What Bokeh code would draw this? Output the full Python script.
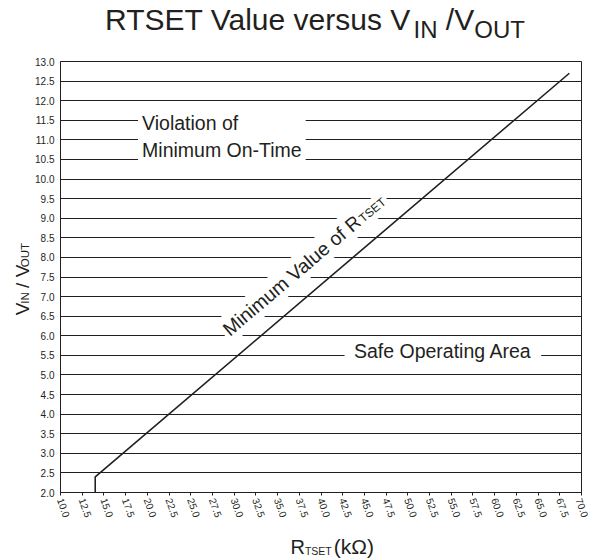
import math
from bokeh.plotting import figure
from bokeh.models import Range1d, FixedTicker, PrintfTickFormatter, Label
from bokeh.layouts import column, row
from bokeh.embed import file_html
from bokeh.resources import INLINE

# ---------------- data ----------------
r_tset = [14.0, 14.0, 68.6]          # kOhm
vin_vout = [2.0, 2.4, 12.7]          # VIN / VOUT
x_ticks = [10.0, 12.5, 15.0, 17.5, 20.0, 22.5, 25.0, 27.5, 30.0, 32.5, 35.0, 37.5, 40.0,
           42.5, 45.0, 47.5, 50.0, 52.5, 55.0, 57.5, 60.0, 62.5, 65.0, 67.5, 70.0]
y_ticks = [2.0, 2.5, 3.0, 3.5, 4.0, 4.5, 5.0, 5.5, 6.0, 6.5, 7.0, 7.5, 8.0, 8.5, 9.0,
           9.5, 10.0, 10.5, 11.0, 11.5, 12.0, 12.5, 13.0]
x_lo, x_hi = 10.0, 70.0
y_lo, y_hi = 2.0, 13.0

INK = "#231f20"
FONT = "Liberation Sans"
NB = "\u00a0"
SHIFT = 0.38   # empirical em offset of Bokeh's alphabetic anchor

# ---------------- geometry (page pixels) ----------------
PW, PH = 589, 560
TOP_H = 48            # title strip
BOT_H = 38            # x-label strip
LEFT_W = 32           # y-label strip
MAIN_W = PW - LEFT_W
MAIN_H = PH - TOP_H - BOT_H
FL, FR, FT, FB = 59, 581, 61, 492   # plot frame edges on the page


def dx(px):
    return x_lo + (px - FL) * (x_hi - x_lo) / (FR - FL)


def dy(py):
    return y_lo + (FB - py) * (y_hi - y_lo) / (FB - FT)


AW = {'R': 722, 'T': 611, 'S': 667, 'E': 667, ' ': 278, NB: 278, 'V': 667, 'a': 556,
      'l': 222, 'u': 556, 'e': 556, 'v': 500, 'r': 333, 's': 500, 'I': 278, 'N': 722,
      '/': 278, 'O': 778, 'U': 722, 'M': 833, 'i': 222, 'n': 556, 'm': 833, 'o': 556,
      'f': 278, '(': 333, ')': 333, 'k': 500, 'Ω': 768}


def tw(s, size):
    return sum(AW.get(c, 556) for c in s) / 1000.0 * size


def put(fig, conv, gx, gy, text, size, angle=0.0, bg=None, pad=0):
    """Place text so its first glyph's baseline-start sits at page point (gx, gy)."""
    c, s = math.cos(angle), math.sin(angle)
    sh = SHIFT * size
    ax = gx - pad * c - sh * s
    ay = gy + pad * s - sh * c
    x, y = conv(ax, ay)
    kw = dict(background_fill_color=bg, padding=pad) if bg else {}
    fig.add_layout(Label(x=x, y=y, text=text, text_font=FONT, text_font_size=f"{size}px",
                         text_color=INK, angle=angle, text_align="left",
                         text_baseline="alphabetic", **kw))


def text_fig(w, h):
    f = figure(width=w, height=h, output_backend="svg", toolbar_location=None,
               x_axis_type=None, y_axis_type=None, x_range=Range1d(0, w), y_range=Range1d(0, h),
               min_border=0)
    f.outline_line_color = None
    f.background_fill_color = "white"
    f.border_fill_color = "white"
    return f


# ---------------- main plot ----------------
p = figure(width=MAIN_W, height=MAIN_H, output_backend="svg", toolbar_location=None,
           x_range=Range1d(x_lo, x_hi), y_range=Range1d(y_lo, y_hi),
           min_border_left=FL - LEFT_W, min_border_right=PW - FR,
           min_border_top=FT - TOP_H, min_border_bottom=(PH - BOT_H) - FB)
p.background_fill_color = "white"
p.border_fill_color = "white"
p.outline_line_color = INK
p.outline_line_width = 1

p.xaxis.ticker = FixedTicker(ticks=x_ticks)
p.yaxis.ticker = FixedTicker(ticks=y_ticks)
p.xaxis.formatter = PrintfTickFormatter(format="%.1f")
p.yaxis.formatter = PrintfTickFormatter(format="%.1f")
for ax in (p.xaxis, p.yaxis):
    ax.axis_line_color = INK
    ax.major_tick_line_color = INK
    ax.minor_tick_line_color = None
    ax.major_label_text_font = FONT
    ax.major_label_text_font_size = "10px"
    ax.major_label_text_color = INK
    ax.axis_label = None
p.xaxis.major_tick_in = 0
p.xaxis.major_tick_out = 3
p.xaxis.major_label_standoff = 3
p.xaxis.major_label_orientation = -math.radians(70)
p.yaxis.major_tick_in = 0
p.yaxis.major_tick_out = 0
p.yaxis.major_label_standoff = 6

p.xgrid.grid_line_color = None
p.ygrid.ticker = FixedTicker(ticks=y_ticks)
p.ygrid.grid_line_color = INK
p.ygrid.grid_line_alpha = 1.0
p.ygrid.grid_line_width = 1

p.line(r_tset, vin_vout, line_color=INK, line_width=1.6)


def main_conv(px, py):
    return dx(px), dy(py)


# two-line annotation (top anchored)
p.add_layout(Label(x=dx(136.7), y=dy(107.5), text="Violation of\nMinimum On-Time",
                   text_font=FONT, text_font_size="19.5px", text_color=INK,
                   text_align="left", text_baseline="top", text_line_height=1.22,
                   background_fill_color="white", padding=4))

put(p, main_conv, 353 - tw(NB, 19.5), 358, NB + "Safe Operating Area" + NB, 19.5,
    bg="white", pad=4)

sx = (r_tset[2] - r_tset[1]) * (FR - FL) / (x_hi - x_lo)
sy = (vin_vout[2] - vin_vout[1]) * (FB - FT) / (y_hi - y_lo)
a = math.atan2(sy, sx)
x0, y0 = 229.0, 336.7
main_txt = "Minimum Value of R"
put(p, main_conv, x0, y0, main_txt, 19.5, angle=a, bg="white", pad=3)
L = tw(main_txt, 19.5)
put(p, main_conv, x0 + L * math.cos(a), y0 - L * math.sin(a), "TSET", 12, angle=a,
    bg="white", pad=3)

# ---------------- title strip ----------------
t = text_fig(PW, TOP_H)
tconv = lambda px, py: (px, TOP_H - py)
tx = 104.6
for txt, sz, base in (("RTSET Value versus V", 30, 30), ("IN", 24, 38),
                      (NB + "/V", 30, 30), ("OUT", 24, 38)):
    put(t, tconv, tx, base, txt, sz)
    tx += tw(txt, sz)

# ---------------- y label strip ----------------
yl = text_fig(LEFT_W, MAIN_H)
yconv = lambda px, py: (px, (PH - BOT_H) - py)
yy = 327.0
for txt, sz in (("V", 19), ("IN", 11.5), (NB + "/ V", 19), ("OUT", 11.5)):
    put(yl, yconv, 29.3, yy, txt, sz, angle=math.pi / 2)
    yy -= tw(txt, sz)

# ---------------- x label strip ----------------
xl = text_fig(PW, BOT_H)
xconv = lambda px, py: (px, PH - py)
xx = 290.0
for txt, sz, gap in (("R", 20, 0), ("TSET", 10.5, 2), ("(kΩ)", 21, 0)):
    put(xl, xconv, xx, 554, txt, sz)
    xx += tw(txt, sz) + gap

layout = column(t, row(yl, p), xl)
open("out.html", "w").write(file_html(layout, INLINE))
